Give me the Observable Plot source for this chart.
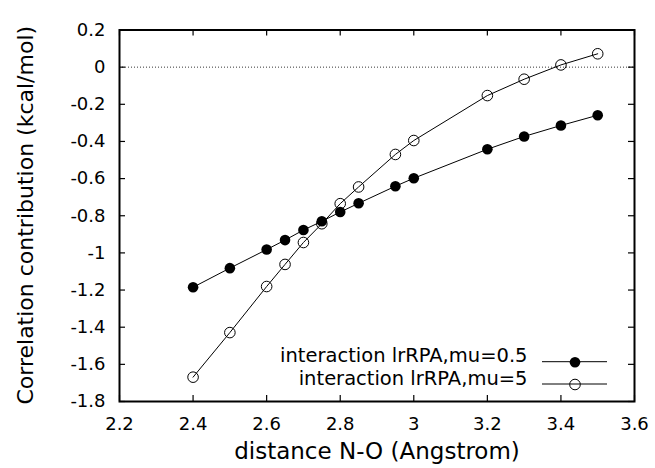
<!DOCTYPE html>
<html><head><meta charset="utf-8">
<script src="https://cdn.jsdelivr.net/npm/d3@7"></script>
<script src="https://cdn.jsdelivr.net/npm/@observablehq/plot@0.6"></script>
<style>body{margin:0;background:#fff}</style>
</head><body><div id="chart"></div>
<script>
const distance = [2.4, 2.5, 2.6, 2.65, 2.7, 2.75, 2.8, 2.85, 2.95, 3.0, 3.2, 3.3, 3.4, 3.5];
const mu05 = [-1.185, -1.082, -0.982, -0.931, -0.877, -0.830, -0.780, -0.733, -0.641, -0.598, -0.442, -0.373, -0.314, -0.259];
const mu5 = [-1.669, -1.429, -1.181, -1.062, -0.944, -0.843, -0.735, -0.645, -0.470, -0.395, -0.153, -0.065, 0.012, 0.072];
const seriesLabels = ["interaction lrRPA,mu=0.5", "interaction lrRPA,mu=5"];
const xTicks = [2.2, 2.4, 2.6, 2.8, 3.0, 3.2, 3.4, 3.6];
const yTicks = [-1.8, -1.6, -1.4, -1.2, -1.0, -0.8, -0.6, -0.4, -0.2, 0, 0.2];
const xLabel = "distance N-O (Angstrom)";
const yLabel = "Correlation contribution (kcal/mol)";

const s05 = distance.map((d, i) => ({x: d, y: mu05[i]}));
const s5 = distance.map((d, i) => ({x: d, y: mu5[i]}));
const fmt = d => String(+d.toFixed(1));
const FONT = "'DejaVu Sans', sans-serif";

const W = 655, H = 468, ML = 119, MR = 21, MT = 29.5, MB = 67;
const PW = W - ML - MR, PH = H - MT - MB, TICK = 6;
const legendDy = [-39.3, -17];

const legendMarks = seriesLabels.flatMap((label, i) => [
  Plot.text([label], {frameAnchor: "bottom-right", dx: -107, dy: legendDy[i], textAnchor: "end", fontSize: 19.5}),
  Plot.dot([label], {frameAnchor: "bottom-right", dx: -59.5, dy: legendDy[i], r: 5.3,
    fill: i === 0 ? "#000" : "none", stroke: i === 0 ? "none" : "#000", strokeWidth: 1})
]);

const chart = Plot.plot({
  width: W, height: H,
  marginLeft: ML, marginRight: MR, marginTop: MT, marginBottom: MB,
  style: {fontFamily: FONT, background: "#fff", color: "#000"},
  x: {domain: [2.2, 3.6]},
  y: {domain: [-1.8, 0.2]},
  marks: [
    Plot.ruleY([0], {stroke: "#000", strokeWidth: 0.8, strokeDasharray: "1,2"}),
    Plot.axisX(xTicks, {anchor: "bottom", tickSize: 0, tickPadding: 15.5, tickFormat: fmt, fontSize: 18, label: null}),
    Plot.axisY(yTicks, {anchor: "left", tickSize: 0, tickPadding: 14, tickFormat: fmt, fontSize: 18, label: null}),
    // inward ticks on all four sides
    Plot.ruleX(xTicks, {x: d => d, insetTop: PH - TICK, stroke: "#000", strokeWidth: 1.2}),
    Plot.ruleX(xTicks, {x: d => d, insetBottom: PH - TICK, stroke: "#000", strokeWidth: 1.2}),
    Plot.ruleY(yTicks, {y: d => d, insetRight: PW - TICK, stroke: "#000", strokeWidth: 1.2}),
    Plot.ruleY(yTicks, {y: d => d, insetLeft: PW - TICK, stroke: "#000", strokeWidth: 1.2}),
    Plot.frame({stroke: "#000", strokeWidth: 2}),
    Plot.line(s05, {x: "x", y: "y", stroke: "#000", strokeWidth: 1}),
    Plot.line(s5, {x: "x", y: "y", stroke: "#000", strokeWidth: 1}),
    Plot.dot(s05, {x: "x", y: "y", r: 5.3, fill: "#000", stroke: "none"}),
    Plot.dot(s5, {x: "x", y: "y", r: 5.3, fill: "none", stroke: "#000", strokeWidth: 1}),
    Plot.text([xLabel], {frameAnchor: "bottom", dy: 57, fontSize: 23}),
    ...legendMarks
  ]
});

const svg = d3.select(chart);
// legend sample lines, placed beneath the legend markers
seriesLabels.forEach((label, i) => {
  const cy = H - MB + legendDy[i];
  svg.insert("line", ":first-child")
    .attr("x1", W - MR - 92).attr("x2", W - MR - 27)
    .attr("y1", cy).attr("y2", cy)
    .attr("stroke", "#000").attr("stroke-width", 1);
});
// y-axis title (rotated)
svg.append("text")
  .attr("transform", `translate(26,${MT + PH / 2}) rotate(-90)`)
  .attr("text-anchor", "middle")
  .attr("dy", "0.32em")
  .attr("font-family", FONT)
  .attr("font-size", 22)
  .attr("fill", "#000")
  .text(yLabel);

document.getElementById("chart").appendChild(chart);
</script>
</body></html>
